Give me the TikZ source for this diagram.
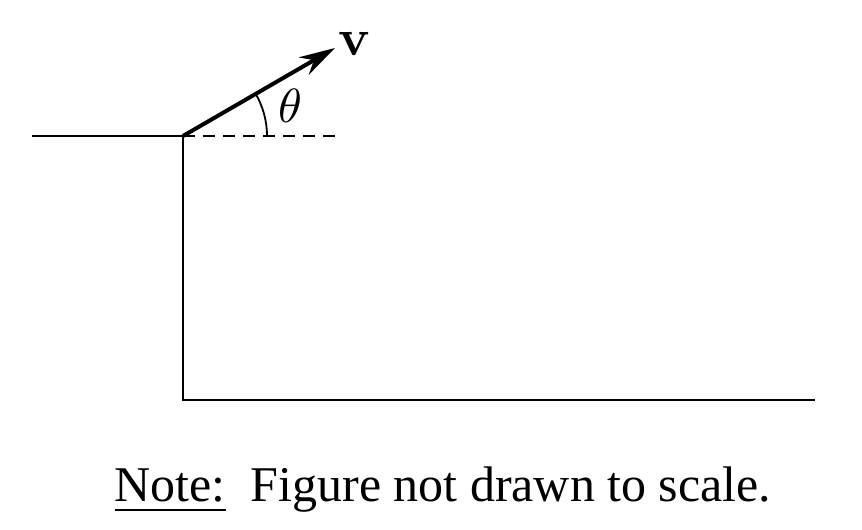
\documentclass[tikz,border=0pt]{standalone}
\usepackage{fontspec}
\setmainfont{Liberation Serif}
\usepackage{unicode-math}
\setmathfont{Latin Modern Math}
\usetikzlibrary{arrows.meta}

\begin{document}
\begin{tikzpicture}[
  x={(0.25pt,0pt)},
  y={(0pt,-0.25pt)},
  ground/.style={line width=0.7pt},
  velocity/.style={line width=1pt, -{Stealth[length=9pt,width=5pt]}}
]
\useasboundingbox (0,0) rectangle (862,530);

\coordinate (left) at (32,136);
\coordinate (edge) at (183,136);
\coordinate (foot) at (183,400);
\coordinate (far) at (815,400);
\coordinate (level) at (342,136);
\coordinate (tip) at (335,48);

% cliff and ground
\draw[ground] (left) -- (edge) -- (foot) -- (far);

% horizontal reference
\draw[line width=0.5pt, dash pattern=on 3pt off 2pt] (edge) -- (level);

% launch velocity
\draw[velocity] (edge) -- (tip);
\node[font=\fontsize{13pt}{15pt}\selectfont] (vel) at (354,44) {$\symbf{v}$};

% angle
\draw[line width=0.45pt] (edge) ++(84,0) arc[start angle=0, end angle=-30.4, radius=84];
\node[font=\fontsize{12pt}{14pt}\selectfont] (theta) at (290,106) {$\theta$};

\node[font=\fontsize{12.5pt}{15pt}\selectfont] (note) at (443,490)
  {\underline{Note:}\ \ Figure not drawn to scale.};
\end{tikzpicture}
\end{document}
